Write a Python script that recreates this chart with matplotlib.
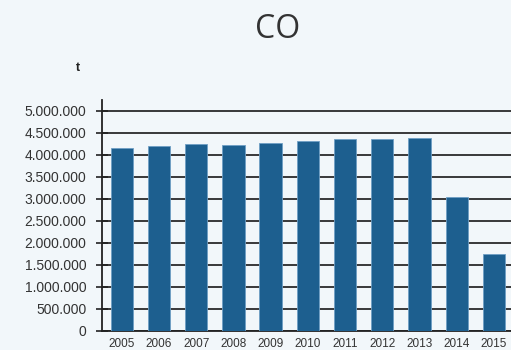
import matplotlib
matplotlib.use('Agg')
import matplotlib.pyplot as plt
from matplotlib.ticker import FuncFormatter

# Jahre und CO-Emissionen in Tonnen
years = ['2005', '2006', '2007', '2008', '2009', '2010', '2011', '2012', '2013', '2014', '2015']
co_values = [4150000, 4200000, 4240000, 4230000, 4270000, 4310000, 4360000, 4360000, 4390000, 3050000, 1760000]
y_ticks = [0, 500000, 1000000, 1500000, 2000000, 2500000, 3000000, 3500000, 4000000, 4500000, 5000000]

bg = '#f2f7fa'
plt.rcParams['font.family'] = ['Liberation Sans', 'DejaVu Sans']

fig = plt.figure(figsize=(5.11, 3.5), dpi=100, facecolor=bg)
ax = fig.add_axes([101.7 / 511, (350 - 331) / 350, (511 - 101.7) / 511, (331 - 100) / 350])
ax.set_facecolor(bg)

x = range(len(years))
ax.bar(x, co_values, width=0.6, color='#1d5f8f', edgecolor='#6f9fc4', linewidth=0.6, zorder=3)

ax.set_xlim(-0.54, 10.46)
ax.set_ylim(0, 5250000)
ax.set_yticks(y_ticks)
ax.yaxis.set_major_formatter(FuncFormatter(lambda v, p: f'{int(v):,}'.replace(',', '.')))
ax.set_xticks(list(x))
ax.set_xticklabels(years)

ax.grid(axis='y', color='#2a2a2a', linewidth=1.3, zorder=1)
for s in ['top', 'right']:
    ax.spines[s].set_visible(False)
ax.spines['left'].set_color('#222222')
ax.spines['bottom'].set_color('#222222')
ax.spines['left'].set_linewidth(1.3)
ax.spines['bottom'].set_linewidth(1.3)

ax.tick_params(axis='y', direction='inout', length=8, width=1.2, color='#222222',
               labelsize=10, labelcolor='#333333', pad=7)
ax.tick_params(axis='x', length=0, labelsize=8.5, labelcolor='#333333', pad=5)

fig.text(278 / 511, 1 - 30 / 350, 'CO', ha='center', va='center', fontsize=23,
         color='#333333', family=['Open Sans', 'DejaVu Sans'])
fig.text(78 / 511, 1 - 68 / 350, 't', ha='center', va='center', fontsize=9,
         color='#222222', fontweight='bold')

fig.savefig('out.png', dpi=100, facecolor=bg)
